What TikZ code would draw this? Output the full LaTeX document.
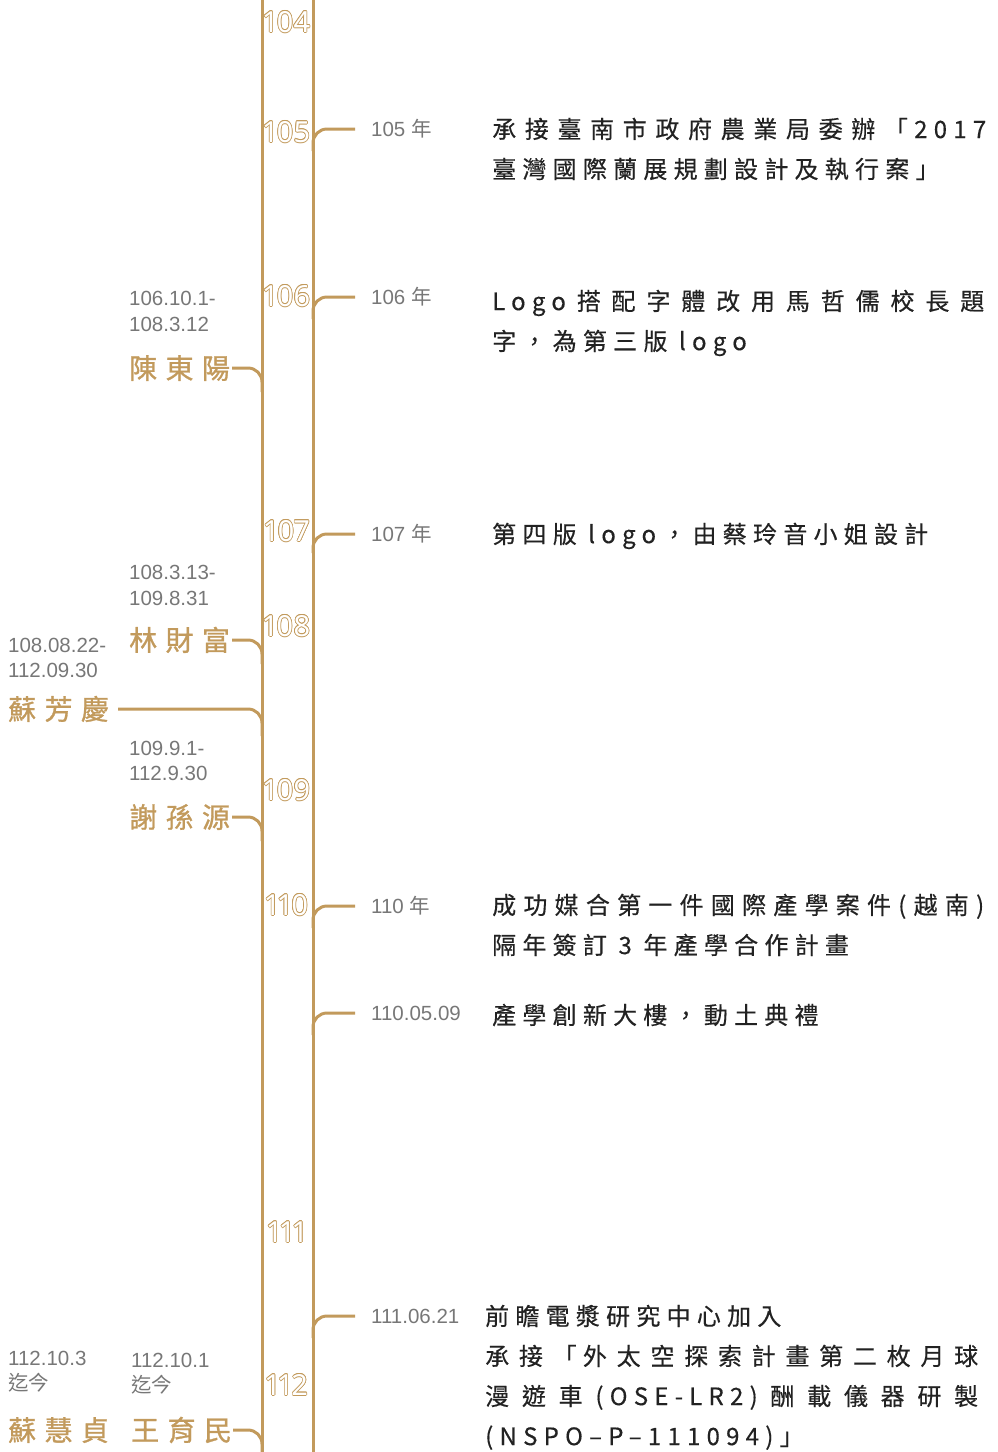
\documentclass[tikz,border=0pt]{standalone}
\usepackage{fontspec}
\usetikzlibrary{positioning}
\setmainfont{Noto Sans CJK TC}
\newfontfamily\desctext[LetterSpace=26,FakeBold=0.4]{Noto Sans CJK TC}
\newfontfamily\nametext[LetterSpace=30,FakeBold=1]{Noto Sans CJK TC}
\newfontfamily\datetext{Liberation Sans}
\newfontfamily\datecjk{Noto Sans CJK TC}
\newfontfamily\yeartext[Numbers=Proportional]{Noto Sans}
\definecolor{gold}{HTML}{C29A5C}
\definecolor{datagray}{HTML}{777777}
\definecolor{ink}{HTML}{222222}

% justified line: the spaces take up all the slack
\newcommand{\spreadline}[2]{\makebox[#1][s]{\spaceskip=0pt plus 1fil\relax #2}}

% hollow year number on the rails
\newcommand{\yearmark}[3]{%
  \foreach \a in {0,30,...,330}
    \node[yearno,text=gold] at ([shift={(\a:0.7)}]287,#2) {#3};
  \node[yearno,text=white] (#1) at (287,#2) {#3};}

\begin{document}
\begin{tikzpicture}[x=1pt,y=-1pt,
  rail/.style={draw=gold,line width=3pt},
  branch/.style={draw=gold,line width=3pt,rounded corners=14pt},
  yearno/.style={font=\yeartext\fontsize{29}{29}\selectfont,inner sep=0,text height=20.7pt,text depth=0pt},
  when/.style={font=\datetext\fontsize{20.5}{20.5}\selectfont,text=datagray,inner sep=0,anchor=west,text height=14.7pt,text depth=0pt},
  who/.style={font=\nametext\fontsize{28}{28}\selectfont,text=gold,inner sep=0,anchor=west,text height=21.3pt,text depth=0pt},
  desc/.style={font=\desctext\fontsize{24}{24}\selectfont,text=ink,inner sep=0,anchor=west,text height=18.2pt,text depth=0pt}]
	\useasboundingbox (0,0) rectangle (997,1452);

	% years
	\yearmark{y104}{22}{104}
	\yearmark{y105}{132}{105}
	\yearmark{y106}{296}{106}
	\yearmark{y107}{531}{107}
	\yearmark{y108}{626}{108}
	\yearmark{y109}{790}{109}
	\yearmark{y110}{905}{110}
	\yearmark{y111}{1232}{111}
	\yearmark{y112}{1385}{112}

	\draw[rail] (262,0) -- (262,1452);
	\draw[rail] (313,0) -- (313,1452);

	% left side: terms
	\node[when] (chenA) at (129,298) {106.10.1-};
	\node[when] (chenB) at (129,324) {108.3.12};
	\node[who] (chen) at (129,368) {陳東陽};

	\node[when] (linA) at (129,572) {108.3.13-};
	\node[when] (linB) at (129,598) {109.8.31};
	\node[who] (lin) at (129,640) {林財富};

	\node[when] (suA) at (8,645) {108.08.22-};
	\node[when] (suB) at (8,670) {112.09.30};
	\node[who] (su) at (8,709) {蘇芳慶};

	\node[when] (hsiehA) at (129,748) {109.9.1-};
	\node[when] (hsiehB) at (129,773) {112.9.30};
	\node[who] (hsieh) at (129,817) {謝孫源};

	\node[when] (shenA) at (8,1358) {112.10.3};
	\node[when] (shenB) at (8,1383) {\datecjk 迄今};
	\node[who] (shen) at (8,1430) {蘇慧貞};

	\node[when] (wangA) at (131,1360) {112.10.1};
	\node[when] (wangB) at (131,1385) {\datecjk 迄今};
	\node[who] (wang) at (131,1430) {王育民};

	\draw[branch] ([xshift=2pt]chen.east) -| (262,392);
	\draw[branch] ([xshift=2pt]lin.east) -| (262,664);
	\draw[branch] ([xshift=9pt]su.east) -| (262,736);
	\draw[branch] ([xshift=2pt]hsieh.east) -| (262,841);
	\draw[branch] ([xshift=1pt]wang.east) -| (262,1452);

	% right side: events
	\node[when] (e105) at (371,129) {105 {\datecjk 年}};
	\node[desc] (t105a) at (492,129) {\spreadline{494pt}{承 接 臺 南 市 政 府 農 業 局 委 辦 「2017}};
	\node[desc] (t105b) at (492,169) {臺灣國際蘭展規劃設計及執行案」};

	\node[when] (e106) at (371,297) {106 {\datecjk 年}};
	\node[desc] (t106a) at (492,301) {\spreadline{492pt}{Logo 搭 配 字 體 改 用 馬 哲 儒 校 長 題}};
	\node[desc] (t106b) at (492,341) {字，為第三版 logo};

	\node[when] (e107) at (371,534) {107 {\datecjk 年}};
	\node[desc] (t107) at (492,534) {第四版 logo，由蔡玲音小姐設計};

	\node[when] (e110) at (371,906) {110 {\datecjk 年}};
	\node[desc] (t110a) at (492,905) {\spreadline{492pt}{成 功 媒 合 第 一 件 國 際 產 學 案 件 ( 越 南 )}};
	\node[desc] (t110b) at (492,945) {隔年簽訂 3 年產學合作計畫};

	\node[when] (e1105) at (371,1013) {110.05.09};
	\node[desc] (t1105) at (492,1015) {產學創新大樓，動土典禮};

	\node[when] (e1106) at (371,1316) {111.06.21};
	\node[desc] (t1106a) at (485,1316) {前瞻電漿研究中心加入};
	\node[desc] (t1106b) at (485,1356) {\spreadline{493pt}{承 接 「外 太 空 探 索 計 畫 第 二 枚 月 球}};
	\node[desc] (t1106c) at (485,1396) {\spreadline{493pt}{漫 遊 車 (OSE-LR2) 酬 載 儀 器 研 製}};
	\node[desc] (t1106d) at (485,1436) {(NSPO–P–111094)」};

	\draw[branch] ([xshift=-16pt]e105.west) -| (313,151);
	\draw[branch] ([xshift=-16pt]e106.west) -| (313,319);
	\draw[branch] ([xshift=-16pt]e107.west) -| (313,553);
	\draw[branch] ([xshift=-16pt]e110.west) -| (313,928);
	\draw[branch] ([xshift=-16pt]e1105.west) -| (313,1035);
	\draw[branch] ([xshift=-16pt]e1106.west) -| (313,1338);
\end{tikzpicture}
\end{document}
